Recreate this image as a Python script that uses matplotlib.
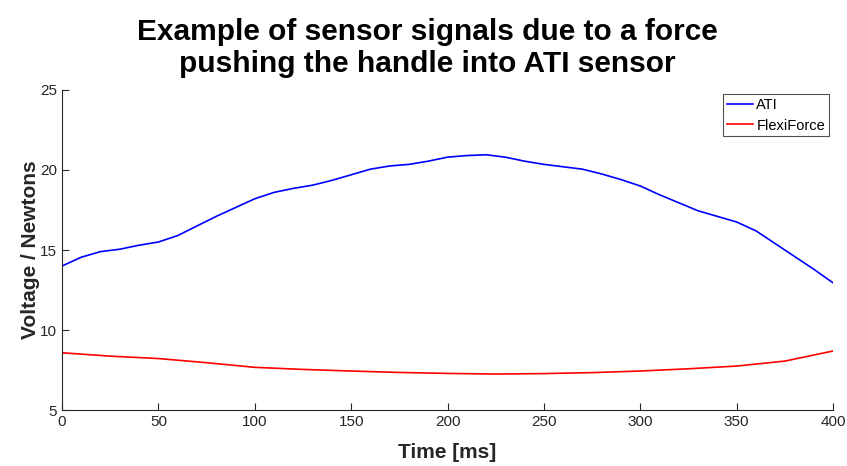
import matplotlib.pyplot as plt

# values (time in ms)
ati_t = [0, 10, 20, 30, 40, 50, 60, 70, 80, 90, 100, 110, 120, 130, 140, 150,
         160, 170, 180, 190, 200, 210, 220, 230, 240, 250, 260, 270, 280, 290,
         300, 310, 320, 330, 340, 350, 360, 370, 380, 390, 400]
ati = [14.0, 14.55, 14.9, 15.05, 15.3, 15.5, 15.9, 16.5, 17.1, 17.65, 18.2,
       18.6, 18.85, 19.05, 19.35, 19.7, 20.05, 20.25, 20.35, 20.55, 20.8,
       20.9, 20.95, 20.8, 20.55, 20.35, 20.2, 20.05, 19.75, 19.4, 19.0,
       18.45, 17.95, 17.45, 17.1, 16.75, 16.2, 15.4, 14.6, 13.8, 12.95]

flexi_t = [0, 25, 50, 75, 100, 125, 150, 175, 200, 225, 250, 275, 300, 325,
           350, 375, 400]
flexi = [8.58, 8.37, 8.22, 7.96, 7.67, 7.54, 7.44, 7.35, 7.29, 7.25, 7.28,
         7.34, 7.44, 7.58, 7.75, 8.06, 8.69]

plt.rcParams['font.family'] = ['Liberation Sans', 'DejaVu Sans']

fig = plt.figure(figsize=(8.47, 4.66), dpi=100)
ax = fig.add_axes([0.0732, 0.120, 0.9103, 0.687])

ax.plot(ati_t, ati, color='#0000ff', lw=1.2, label='ATI')
ax.plot(flexi_t, flexi, color='#ff0000', lw=1.2, label='FlexiForce')

ax.set_xlim(0, 400)
ax.set_ylim(5, 25)
ax.set_xticks(range(0, 401, 50))
ax.set_yticks(range(5, 26, 5))

for s in ['top', 'right']:
    ax.spines[s].set_visible(False)
for s in ['left', 'bottom']:
    ax.spines[s].set_color('#262626')
    ax.spines[s].set_linewidth(0.8)
ax.tick_params(direction='in', length=5, width=0.8, colors='#262626', labelsize=11)

ax.set_xlabel('Time [ms]', fontsize=15, fontweight='bold', color='#262626', labelpad=10)
ax.set_ylabel('Voltage / Newtons', fontsize=15, fontweight='bold', color='#262626', labelpad=0)
fig.text(0.505, 0.962, 'Example of sensor signals due to a force\npushing the handle into ATI sensor',
         fontsize=21.5, fontweight='bold', ha='center', va='top', linespacing=1.2)

leg = ax.legend(loc='upper right', fontsize=10.5, frameon=True, fancybox=False,
                handlelength=1.8, handletextpad=0.2, borderpad=0.25, labelspacing=0.45,
                borderaxespad=0.3)
leg.get_frame().set_edgecolor('#262626')
leg.get_frame().set_linewidth(0.8)

fig.savefig('out.png', dpi=100)
